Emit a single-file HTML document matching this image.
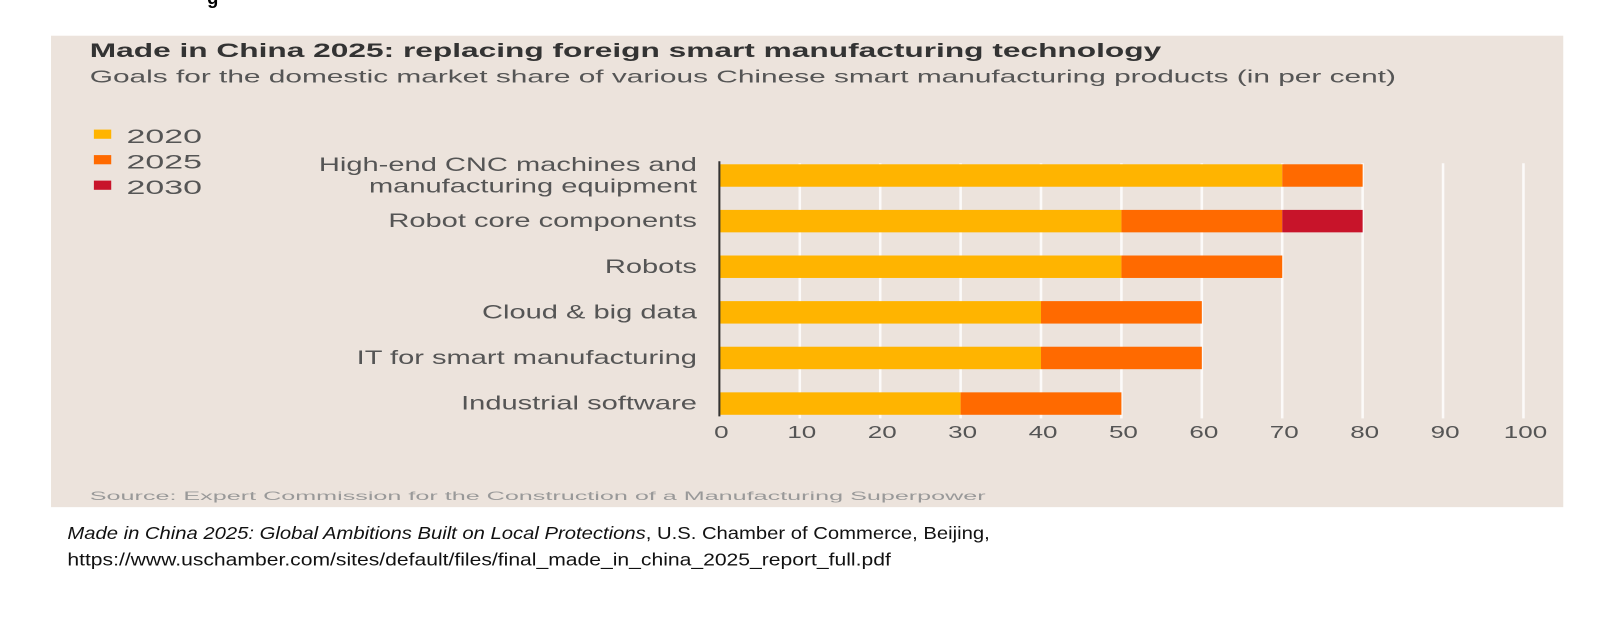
<!DOCTYPE html>
<html><head><meta charset="utf-8"><style>
body{margin:0;background:#fff;width:1600px;height:624px;overflow:hidden;position:relative;font-family:"Liberation Sans",sans-serif}
#wrap{position:absolute;left:0;top:0;width:1568px;height:612px;transform:scale(1.0204);transform-origin:0 0}
#panel{position:absolute;left:50px;top:35px;width:1482px;height:462px;background:#ece3dc}
.t{position:absolute;white-space:nowrap}
</style></head><body>
<div id="wrap">
<div class="t" style="left:203px;top:-12px;font-weight:bold;font-size:18px">g</div>
<div id="panel"></div>
<svg id="chart" width="1568" height="612" style="position:absolute;left:0;top:0">
<text x="88" y="56" font-size="19" font-weight="bold" fill="#333" textLength="1050" lengthAdjust="spacingAndGlyphs">Made in China 2025: replacing foreign smart manufacturing technology</text>
<text x="88" y="81" font-size="17" fill="#555" textLength="1280" lengthAdjust="spacingAndGlyphs">Goals for the domestic market share of various Chinese smart manufacturing products (in per cent)</text>
<text x="88" y="490" font-size="12" fill="#999" textLength="878" lengthAdjust="spacingAndGlyphs">Source: Expert Commission for the Construction of a Manufacturing Superpower</text>
<text x="66" y="528" font-size="17" fill="#111" textLength="904" lengthAdjust="spacingAndGlyphs"><tspan font-style="italic">Made in China 2025: Global Ambitions Built on Local Protections</tspan>, U.S. Chamber of Commerce, Beijing,</text>
<text x="66" y="554" font-size="17" fill="#111" textLength="807" lengthAdjust="spacingAndGlyphs">https://www.uschamber.com/sites/default/files/final_made_in_china_2025_report_full.pdf</text>
<g id="legend"></g><g id="grid"></g><g id="bars"></g><g id="labels"></g>
</svg>
</div>
<script>
const categories=["High-end CNC machines and|manufacturing equipment","Robot core components","Robots","Cloud & big data","IT for smart manufacturing","Industrial software"];
const v2020=[70,50,50,40,40,30];
const v2025=[80,70,70,60,60,50];
const v2030=[80,80,70,60,60,50];
const ticks=[0,10,20,30,40,50,60,70,80,90,100];
const seriesNames=["2020","2025","2030"];
const colors=["#ffb400","#ff6a00","#c8142a"];
const NS="http://www.w3.org/2000/svg";
const x=v=>705+v*7.88;
const y=i=>172+i*44.7;
function mk(t,a,p){const e=document.createElementNS(NS,t);for(const k in a)e.setAttribute(k,a[k]);document.getElementById(p).appendChild(e);return e;}
function stretch(e,k){const w=e.getComputedTextLength();e.setAttribute('textLength',w*k);e.setAttribute('lengthAdjust','spacingAndGlyphs');}
seriesNames.forEach((n,i)=>{
const r=mk('rect',{x:92,y:127+i*25,width:17,height:9,fill:colors[i]},'legend');


const t=mk('text',{x:124,y:140+i*25,'font-size':19,fill:'#555'},'legend');t.textContent=n;


stretch(t,1.75);
});
categories.forEach((c,i)=>{
const segs=[[0,v2020[i],0],[v2020[i],v2025[i],1],[v2025[i],v2030[i],2]];
segs.forEach(s=>{if(s[1]>s[0]){const r=mk('rect',{x:x(s[0]),y:y(i)-11,width:x(s[1])-x(s[0]),height:22,fill:colors[s[2]]},'bars');

}});
const parts=c.split('|');
parts.forEach((p,j)=>{const t=mk('text',{x:683,y:y(i)+6+(parts.length>1?(j-0.5)*21:0),'font-size':19,fill:'#555','text-anchor':'end'},'labels');t.textContent=p;


stretch(t,1.5);});
});
ticks.forEach(t=>{
if(t>0){const l=mk('line',{x1:x(t),x2:x(t),y1:160,y2:410,stroke:'#fff','stroke-width':2.5,opacity:0.85},'grid');

}
const tx=mk('text',{x:x(t)+2,y:429,'font-size':17,fill:'#555','text-anchor':'middle'},'labels');tx.textContent=t;


stretch(tx,1.5);
});
const ax=mk('line',{x1:705,x2:705,y1:158,y2:408,stroke:'#333','stroke-width':2},'labels');


</script>
</body></html>
